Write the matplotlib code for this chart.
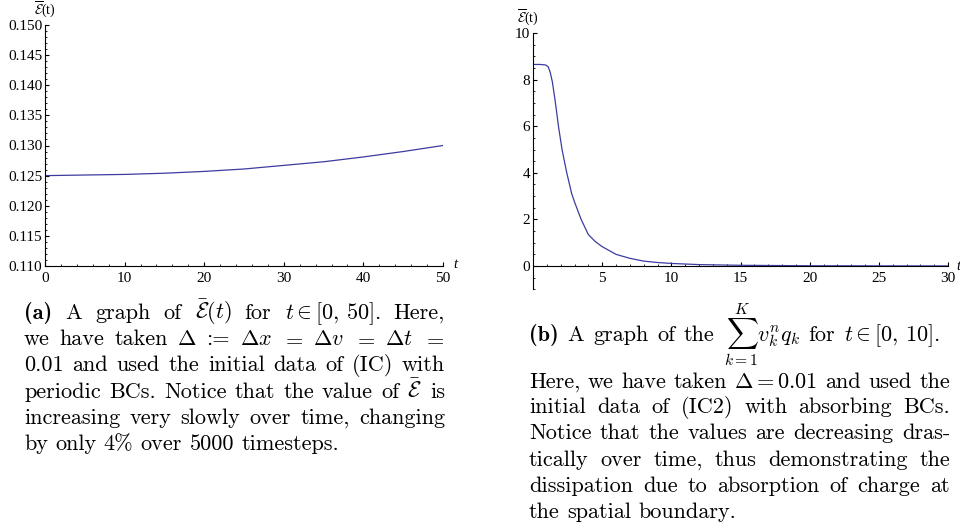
import matplotlib
matplotlib.use('Agg')
import matplotlib.pyplot as plt
from matplotlib.ticker import MultipleLocator, FormatStrFormatter

# ----------- DATA ------------
t_a = [0, 5, 10, 15, 20, 25, 30, 35, 40, 45, 50]
E_a = [0.1250, 0.1251, 0.1252, 0.1254, 0.1257, 0.1261, 0.1267, 0.1273, 0.1281, 0.1290, 0.1300]

t_b = [0, 0.5, 0.9, 1.1, 1.25, 1.4, 1.6, 1.84, 2.1, 2.44, 2.8, 3.0, 3.48, 4.0, 4.5,
       5, 6, 7, 8, 9, 10, 12, 15, 20, 25, 30]
S_b = [8.65, 8.65, 8.63, 8.55, 8.3, 7.9, 7.1, 6.0, 5.0, 4.0, 3.1, 2.75, 2.0, 1.35, 1.05,
       0.83, 0.5, 0.33, 0.21, 0.15, 0.11, 0.06, 0.03, 0.01, 0.005, 0.003]

caption_a = [
    r"(a) A graph of $\bar{\mathcal{E}}(t)$ for $t\in[0,\,50]$. Here,",
    r"we have taken $\Delta$ := $\Delta{}x$ $=$ $\Delta{}v$ $=$ $\Delta{}t$ $=$",
    r"0.01 and used the initial data of (IC) with",
    r"periodic BCs. Notice that the value of $\bar{\mathcal{E}}$ is",
    r"increasing very slowly over time, changing",
    r"by only 4% over 5000 timesteps.",
]
caption_b = [
    r"(b) A graph of the $\sum_{k=1}^{K}v_k^nq_k$ for $t\in[0,\,10]$.",
    r"Here, we have taken $\Delta=0.01$ and used the",
    r"initial data of (IC2) with absorbing BCs.",
    r"Notice that the values are decreasing dras-",
    r"tically over time, thus demonstrating the",
    r"dissipation due to absorption of charge at",
    r"the spatial boundary.",
]
# -----------------------------

plt.rcParams['mathtext.fontset'] = 'cm'
LINE = '#3c3ca0'
TICKFONT = 'Liberation Serif'
FS = 16

fig = plt.figure(figsize=(9.6, 5.29), dpi=100)
W, H = 960, 529


def px_axes(x0, y0, x1, y1):
    return fig.add_axes([x0 / W, 1 - y1 / H, (x1 - x0) / W, (y1 - y0) / H])


def style_axes(ax):
    ax.spines['top'].set_visible(False)
    ax.spines['right'].set_visible(False)
    for s in ('left', 'bottom'):
        ax.spines[s].set_linewidth(0.8)
    ax.tick_params(which='major', direction='in', length=3, width=0.8,
                   labelsize=11)
    ax.tick_params(which='minor', direction='in', length=1.6, width=0.6)
    ax.tick_params(axis='x', pad=4)
    ax.tick_params(axis='y', pad=2)
    for lab in ax.get_xticklabels() + ax.get_yticklabels():
        lab.set_family(TICKFONT)


# (a) left plot
ax1 = px_axes(45, 25, 443, 266)
ax1.plot(t_a, E_a, color=LINE, lw=0.9)
ax1.set_xlim(0, 50)
ax1.set_ylim(0.110, 0.150)
ax1.xaxis.set_major_locator(MultipleLocator(10))
ax1.xaxis.set_minor_locator(MultipleLocator(2))
ax1.yaxis.set_major_locator(MultipleLocator(0.005))
ax1.yaxis.set_minor_locator(MultipleLocator(0.001))
ax1.yaxis.set_major_formatter(FormatStrFormatter('%.3f'))
style_axes(ax1)

# (b) right plot
ax2 = px_axes(533, 33, 948, 289.3)
ax2.plot(t_b, S_b, color=LINE, lw=0.9)
ax2.set_xlim(0, 30)
ax2.set_ylim(-1, 10)
ax2.spines['bottom'].set_position(('data', 0))
ax2.set_xticks([5, 10, 15, 20, 25, 30])
ax2.xaxis.set_minor_locator(MultipleLocator(1))
ax2.yaxis.set_minor_locator(MultipleLocator(0.5))
ax2.set_yticks([0, 2, 4, 6, 8, 10])
style_axes(ax2)

# overlay in pixel coords for labels and captions
cap = fig.add_axes([0, 0, 1, 1], zorder=-1)
cap.set_xlim(0, W)
cap.set_ylim(H, 0)
cap.axis('off')

cap.text(45, 9, r"$\overline{\mathcal{E}}$(t)", ha='center', va='center',
         fontsize=10, family=TICKFONT)
cap.text(528, 17, r"$\overline{\mathcal{E}}$(t)", ha='center', va='center',
         fontsize=10, family=TICKFONT)
cap.text(455, 264, "t", ha='center', va='center', fontsize=10.5,
         family=TICKFONT, style='italic')
cap.text(956, 266, "t", ha='left', va='center', fontsize=10.5,
         family=TICKFONT, style='italic')

renderer = fig.canvas.get_renderer()


def put_line(line, x0, x1, y, last=False):
    words = line.split(' ')
    texts = []
    for w in words:
        fam = 'cmb10' if w in ('(a)', '(b)') else 'cmr10'
        texts.append(cap.text(0, y, w, fontsize=FS, family=fam, va='baseline'))
    widths = [t.get_window_extent(renderer).width for t in texts]
    if last or len(words) == 1:
        gap = FS * 100 / 72 * 0.333
    else:
        gap = (x1 - x0 - sum(widths)) / (len(words) - 1)
    x = x0
    for t, w in zip(texts, widths):
        t.set_x(x)
        x += w + gap


base_a = [319, 345, 371, 398, 424, 450]
for i, (line, y) in enumerate(zip(caption_a, base_a)):
    put_line(line, 24, 445, y, last=(i == len(caption_a) - 1))

base_b = [341, 388, 413, 439, 466, 492, 518]
for i, (line, y) in enumerate(zip(caption_b, base_b)):
    x1 = 940 if i == 0 else 950
    put_line(line, 529, x1, y, last=(i == len(caption_b) - 1))

fig.savefig('out.png', dpi=100)
